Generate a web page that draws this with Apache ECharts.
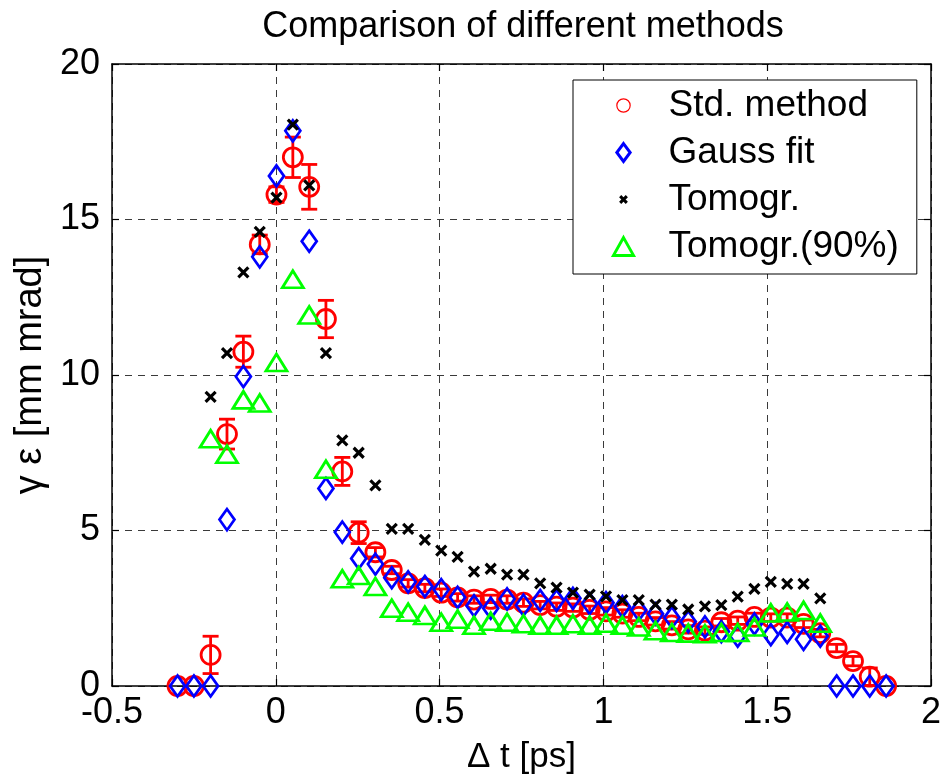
<!DOCTYPE html>
<html>
<head>
<meta charset="utf-8">
<script src="https://cdn.jsdelivr.net/npm/echarts@6/dist/echarts.min.js"></script>
<style>
html,body{margin:0;padding:0;background:#fff;}
#chart{width:944px;height:780px;}
</style>
</head>
<body>
<div id="chart"></div>
<script>
// Δt positions [ps]
const dt = [-0.300,-0.250,-0.199,-0.149,-0.099,-0.049,0.002,0.052,0.102,0.153,0.203,0.253,0.304,0.354,0.404,0.455,0.505,0.555,0.605,0.656,0.706,0.756,0.807,0.857,0.907,0.958,1.008,1.058,1.108,1.159,1.209,1.259,1.310,1.360,1.410,1.461,1.511,1.561,1.611,1.662,1.712,1.762,1.813,1.863];
// Std. method values and error half-widths
const stdVals = [0,0,1.0,8.1,10.75,14.2,15.8,17.0,16.05,11.8,6.9,4.93,4.3,3.73,3.3,3.15,3.0,2.85,2.78,2.8,2.78,2.68,2.6,2.55,2.52,2.45,2.4,2.33,2.22,2.08,1.95,1.82,1.78,2.05,2.1,2.22,2.2,2.2,2.0,1.7,1.22,0.8,0.3,0];
const stdErr  = [0,0,0.6,0.48,0.5,0.3,0.25,0.65,0.72,0.6,0.45,0.35,0.15,0.12,0.12,0.12,0.12,0.12,0.12,0.12,0.12,0.12,0.12,0.12,0.12,0.12,0.12,0.12,0.12,0.12,0.12,0.12,0.12,0.12,0.12,0.12,0.12,0.12,0.12,0.12,0.12,0.15,0.28,0];
// Gauss fit
const gaussVals = [0,0,0,5.35,9.95,13.8,16.4,17.85,14.3,6.35,4.95,4.1,3.92,3.48,3.35,3.2,3.1,2.85,2.58,2.5,2.8,2.6,2.75,2.75,2.82,2.65,2.68,2.55,2.44,2.32,2.2,2.07,1.9,1.75,1.6,2.0,1.65,1.72,1.5,1.6,0,0,0,0];
// Tomogr.
const tomoVals = [null,null,9.3,10.7,13.3,14.6,15.7,18.05,16.1,10.7,7.9,7.5,6.45,5.05,5.05,4.7,4.35,4.15,3.68,3.77,3.58,3.58,3.3,3.16,3.0,2.94,2.88,2.76,2.76,2.62,2.62,2.46,2.56,2.6,2.87,3.12,3.35,3.28,3.28,2.82,null,null,null,null];
// Tomogr.(90%)
const tomo90Vals = [null,null,7.95,7.45,9.2,9.1,10.4,13.08,11.93,6.97,3.45,3.55,3.2,2.5,2.37,2.27,2.05,2.15,1.95,2.08,2.05,2.0,1.95,1.95,2.0,1.95,2.02,1.95,1.9,1.78,1.72,1.7,1.68,1.72,1.72,1.9,2.35,2.38,2.43,2.02,null,null,null,null];
// axis ticks
const xTicks = [-0.5,0,0.5,1,1.5,2];
const yTicks = [0,5,10,15,20];
const seriesNames = ['Std. method','Gauss fit','Tomogr.','Tomogr.(90%)'];

const FONT = '"Liberation Sans", Arial, Helvetica, sans-serif';
const pairs = vals => dt.map((x,i)=>[x, vals[i]]).filter(p=>p[1]!==null);
const errData = dt.map((x,i)=>[x, stdVals[i]-stdErr[i], stdVals[i]+stdErr[i], stdErr[i]]).filter(d=>d[3]>0);

const chart = echarts.init(document.getElementById('chart'), null, {renderer:'canvas'});
const xStep = xTicks[1]-xTicks[0], yStep = yTicks[1]-yTicks[0];
const dashed = {show:true, lineStyle:{color:'#3a3a3a', width:1, type:[7,6]}};
const axLine = {show:true, onZero:false, lineStyle:{color:'#000', width:1.5}};
const tick = {show:true, inside:true, length:7, lineStyle:{color:'#000', width:1.2}};

chart.setOption({
  animation:false,
  backgroundColor:'#fff',
  title:{
    text:'Comparison of different methods',
    left:523, top:9, textAlign:'center', padding:0,
    textStyle:{fontFamily:FONT, fontSize:36, fontWeight:'normal', color:'#000'}
  },
  grid:{left:112, top:64, right:9, bottom:89, containLabel:false},
  legend:{
    orient:'vertical', left:573, top:80,
    data:[
      {name:seriesNames[0], icon:'path://M0,0M3,9A6,6,0,1,1,15,9A6,6,0,1,1,3,9ZM18,18', itemStyle:{borderWidth:1.2, opacity:1}},
      {name:seriesNames[1], icon:'path://M0,0M9,1L15,9L9,17L3,9ZM18,18', itemStyle:{borderWidth:3, opacity:1}},
      {name:seriesNames[2], icon:'path://M0,0M6,6L12,12M6,12L12,6M18,18', itemStyle:{borderWidth:3, opacity:1}},
      {name:seriesNames[3], icon:'path://M0,0M9,1L18,17L0,17ZM18,18', itemStyle:{borderWidth:3, opacity:1}}
    ],
    backgroundColor:'#fff', borderColor:'#000', borderWidth:1,
    padding:[7,18,9,39],
    itemWidth:30, itemHeight:20, itemGap:10,
    selectedMode:false,
    textStyle:{fontFamily:FONT, fontSize:37, color:'#000', lineHeight:36, padding:[0,0,0,25]}
  },
  xAxis:[
    {type:'value', min:xTicks[0], max:xTicks[xTicks.length-1], interval:xStep, position:'bottom',
     name:'\u0394 t [ps]', nameLocation:'middle', nameGap:54,
     nameTextStyle:{fontFamily:FONT, fontSize:35, color:'#000'},
     axisLine:axLine, axisTick:tick, splitLine:dashed,
     axisLabel:{fontFamily:FONT, fontSize:36, color:'#000', margin:9}},
    {type:'value', min:xTicks[0], max:xTicks[xTicks.length-1], interval:xStep, position:'top',
     axisLine:axLine, axisTick:tick, splitLine:{show:false}, axisLabel:{show:false}}
  ],
  yAxis:[
    {type:'value', min:yTicks[0], max:yTicks[yTicks.length-1], interval:yStep, position:'left',
     name:'\u03b3 \u03b5 [mm mrad]', nameLocation:'middle', nameGap:57, nameRotate:90,
     nameTextStyle:{fontFamily:FONT, fontSize:38, color:'#000'},
     axisLine:axLine, axisTick:tick, splitLine:dashed,
     axisLabel:{fontFamily:FONT, fontSize:36, color:'#000', margin:12}},
    {type:'value', min:yTicks[0], max:yTicks[yTicks.length-1], interval:yStep, position:'right',
     axisLine:axLine, axisTick:tick, splitLine:{show:false}, axisLabel:{show:false}}
  ],
  series:[
    {
      type:'custom', name:'errbars', silent:true, z:2,
      data:errData,
      encode:{x:0, y:[1,2]},
      renderItem:function(params, api){
        const x = api.value(0);
        const lo = api.coord([x, api.value(1)]);
        const hi = api.coord([x, api.value(2)]);
        const w = 8;
        const st = {stroke:'#ff0000', lineWidth:2.8};
        return {type:'group', children:[
          {type:'line', shape:{x1:lo[0], y1:lo[1], x2:hi[0], y2:hi[1]}, style:st},
          {type:'line', shape:{x1:lo[0]-w, y1:lo[1], x2:lo[0]+w, y2:lo[1]}, style:st},
          {type:'line', shape:{x1:hi[0]-w, y1:hi[1], x2:hi[0]+w, y2:hi[1]}, style:st}
        ]};
      }
    },
    {
      type:'scatter', name:seriesNames[0], z:3,
      data:pairs(stdVals),
      symbol:'circle', symbolSize:19,
      itemStyle:{color:'rgba(0,0,0,0)', borderColor:'#ff0000', borderWidth:2.8, opacity:1}
    },
    {
      type:'scatter', name:seriesNames[1], z:4,
      data:pairs(gaussVals),
      symbol:'diamond', symbolSize:[15,21],
      itemStyle:{color:'rgba(0,0,0,0)', borderColor:'#0000ff', borderWidth:2.8, opacity:1}
    },
    {
      type:'scatter', name:seriesNames[2], z:5,
      data:pairs(tomoVals),
      symbol:'path://M0,0L10,10M0,10L10,0', symbolSize:10,
      itemStyle:{color:'rgba(0,0,0,0)', borderColor:'#000000', borderWidth:3.2, opacity:1}
    },
    {
      type:'scatter', name:seriesNames[3], z:6,
      data:pairs(tomo90Vals),
      symbol:'triangle', symbolSize:[21,17],
      itemStyle:{color:'rgba(0,0,0,0)', borderColor:'#00ff00', borderWidth:2.8, opacity:1}
    }
  ]
});
</script>
</body>
</html>
